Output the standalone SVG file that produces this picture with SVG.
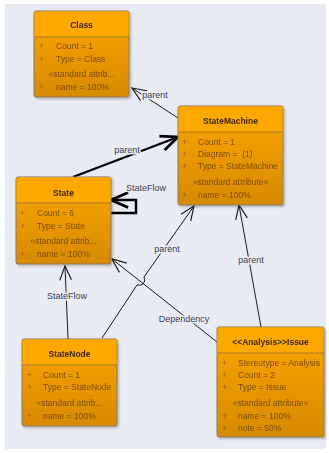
<svg xmlns="http://www.w3.org/2000/svg" width="329" height="453" viewBox="0 0 329 453">
<style>
.box{fill:url(#body);stroke:#8a7a60;stroke-width:1}
.hdr{fill:#ffa800}
.sep{stroke:#a8782a;stroke-width:1}
.title{font-family:"Liberation Sans",Arial,sans-serif;font-size:8.5px;font-weight:bold;fill:#3d2a00;text-anchor:middle}
.attr{font-family:"Liberation Sans",Arial,sans-serif;font-size:8.5px;fill:#7e4c08;white-space:pre}
.plus{font-family:"Liberation Sans",Arial,sans-serif;font-size:8.5px;fill:#9a6414}
.sa{font-family:"Liberation Sans",Arial,sans-serif;font-size:8.5px;fill:#7e4c08;text-anchor:middle}
.ln{fill:none;stroke:#1a1a1a;stroke-width:1}
.thick{fill:none;stroke:#000;stroke-width:2.4}
.lbl{font-family:"Liberation Sans",Arial,sans-serif;font-size:9px;fill:#3e3e52;text-anchor:middle;paint-order:stroke;stroke:#e9ebf3;stroke-width:3px;stroke-linejoin:round}
</style>
<defs>
<linearGradient id="body" x1="0" y1="0" x2="0" y2="1">
<stop offset="0" stop-color="#fba600"/>
<stop offset="1" stop-color="#d68a00"/>
</linearGradient>
<filter id="sh" x="-10%" y="-10%" width="125%" height="125%">
<feDropShadow dx="1.5" dy="1.5" stdDeviation="1" flood-color="#000" flood-opacity="0.25"/>
</filter>
<marker id="arr" markerUnits="userSpaceOnUse" markerWidth="20" markerHeight="20" viewBox="-15 -8 17 16" refX="0" refY="0" orient="auto">
<path d="M-12,-5 L0,0 L-12,5" fill="none" stroke="#1a1a1a" stroke-width="1"/>
</marker>
<marker id="arrT" markerUnits="userSpaceOnUse" markerWidth="24" markerHeight="24" viewBox="-18 -10 21 20" refX="0" refY="0" orient="auto">
<path d="M-15,-6.5 L0,0 L-15,6.5" fill="none" stroke="#000" stroke-width="2.4"/>
</marker>
</defs>
<rect x="0" y="0" width="329" height="453" fill="#ffffff"/>
<rect x="5" y="4" width="321" height="445" fill="#e9ebf3"/>

<g id="connectors">
<path class="ln" d="M178,118 L132,88" marker-end="url(#arr)"/>
<text class="lbl" x="155" y="98">parent</text>
<path class="thick" d="M73,177 L178,137" marker-end="url(#arrT)"/>
<text class="lbl" x="127" y="153">parent</text>
<path class="thick" d="M111,213 L136,213 L136,200 L111,200" marker-end="url(#arrT)"/>
<text class="lbl" x="146" y="191">StateFlow</text>
<path class="ln" d="M68,339 L65,266" marker-end="url(#arr)"/>
<text class="lbl" x="67" y="299">StateFlow</text>
<path class="ln" d="M217,342 L112,259" marker-end="url(#arr)"/>
<text class="lbl" x="184" y="322">Dependency</text>
<path class="ln" d="M102,338 L137,285 L141,285 Q146,283 144,277 L194,206" marker-end="url(#arr)"/>
<text class="lbl" x="167" y="252">parent</text>
<path class="ln" d="M261,327 L239,205" marker-end="url(#arr)"/>
<text class="lbl" x="251" y="263">parent</text>
</g>

<g id="Class" filter="url(#sh)">
<rect class="box" x="34" y="11" width="95" height="86" rx="2"/>
<path class="hdr" d="M36,11.5 H127 Q128.5,11.5 128.5,13 V37 H34.5 V13 Q34.5,11.5 36,11.5 Z"/>
<line class="sep" x1="34.5" y1="37" x2="128.5" y2="37"/>
<text class="title" x="81.5" y="28">Class</text>
<text class="plus" x="39" y="49">+</text><text class="attr" x="56" y="49">Count = 1</text>
<text class="plus" x="39" y="62">+</text><text class="attr" x="56" y="62">Type = Class</text>
<text class="sa" x="81.5" y="77">«standard attrib...</text>
<text class="plus" x="39" y="90">+</text><text class="attr" x="56" y="90">name = 100%</text>
</g>

<g id="StateMachine" filter="url(#sh)">
<rect class="box" x="178" y="106" width="105" height="99" rx="2"/>
<path class="hdr" d="M180,106.5 H281 Q282.5,106.5 282.5,108 V132 H178.5 V108 Q178.5,106.5 180,106.5 Z"/>
<line class="sep" x1="178.5" y1="132" x2="282.5" y2="132"/>
<text class="title" x="230.5" y="124">StateMachine</text>
<text class="plus" x="182" y="145">+</text><text class="attr" x="198" y="145">Count = 1</text>
<text class="plus" x="182" y="157">+</text><text class="attr" x="198" y="157" xml:space="preserve">Diagram =  (1)</text>
<text class="plus" x="182" y="169">+</text><text class="attr" x="198" y="169">Type = StateMachine</text>
<text class="sa" x="230.5" y="185">«standard attribute»</text>
<text class="plus" x="182" y="198">+</text><text class="attr" x="198" y="198">name = 100%</text>
</g>

<g id="State" filter="url(#sh)">
<rect class="box" x="16" y="177" width="95" height="87" rx="2"/>
<path class="hdr" d="M18,177.5 H109 Q110.5,177.5 110.5,179 V203 H16.5 V179 Q16.5,177.5 18,177.5 Z"/>
<line class="sep" x1="16.5" y1="203" x2="110.5" y2="203"/>
<text class="title" x="63.5" y="196">State</text>
<text class="plus" x="20" y="216">+</text><text class="attr" x="37" y="216">Count = 6</text>
<text class="plus" x="20" y="229">+</text><text class="attr" x="37" y="229">Type = State</text>
<text class="sa" x="63.5" y="244">«standard attrib...</text>
<text class="plus" x="20" y="257">+</text><text class="attr" x="37" y="257">name = 100%</text>
</g>

<g id="StateNode" filter="url(#sh)">
<rect class="box" x="22" y="339" width="95" height="87" rx="2"/>
<path class="hdr" d="M24,339.5 H115 Q116.5,339.5 116.5,341 V365 H22.5 V341 Q22.5,339.5 24,339.5 Z"/>
<line class="sep" x1="22.5" y1="365" x2="116.5" y2="365"/>
<text class="title" x="69.5" y="357">StateNode</text>
<text class="plus" x="27" y="378">+</text><text class="attr" x="43" y="378">Count = 1</text>
<text class="plus" x="27" y="390">+</text><text class="attr" x="43" y="390">Type = StateNode</text>
<text class="sa" x="69.5" y="406">«standard attrib...</text>
<text class="plus" x="27" y="419">+</text><text class="attr" x="43" y="419">name = 100%</text>
</g>

<g id="Issue" filter="url(#sh)">
<rect class="box" x="217" y="327" width="107" height="110" rx="2"/>
<path class="hdr" d="M219,327.5 H322 Q323.5,327.5 323.5,329 V353 H217.5 V329 Q217.5,327.5 219,327.5 Z"/>
<line class="sep" x1="217.5" y1="353" x2="323.5" y2="353"/>
<text class="title" x="270.5" y="345">&lt;&lt;Analysis&gt;&gt;Issue</text>
<text class="plus" x="222" y="366">+</text><text class="attr" x="238" y="366">Stereotype = Analysis</text>
<text class="plus" x="222" y="378">+</text><text class="attr" x="238" y="378">Count = 2</text>
<text class="plus" x="222" y="390">+</text><text class="attr" x="238" y="390">Type = Issue</text>
<text class="sa" x="270.5" y="406">«standard attribute»</text>
<text class="plus" x="222" y="419">+</text><text class="attr" x="238" y="419">name = 100%</text>
<text class="plus" x="222" y="431">+</text><text class="attr" x="238" y="431">note = 50%</text>
</g>
</svg>
